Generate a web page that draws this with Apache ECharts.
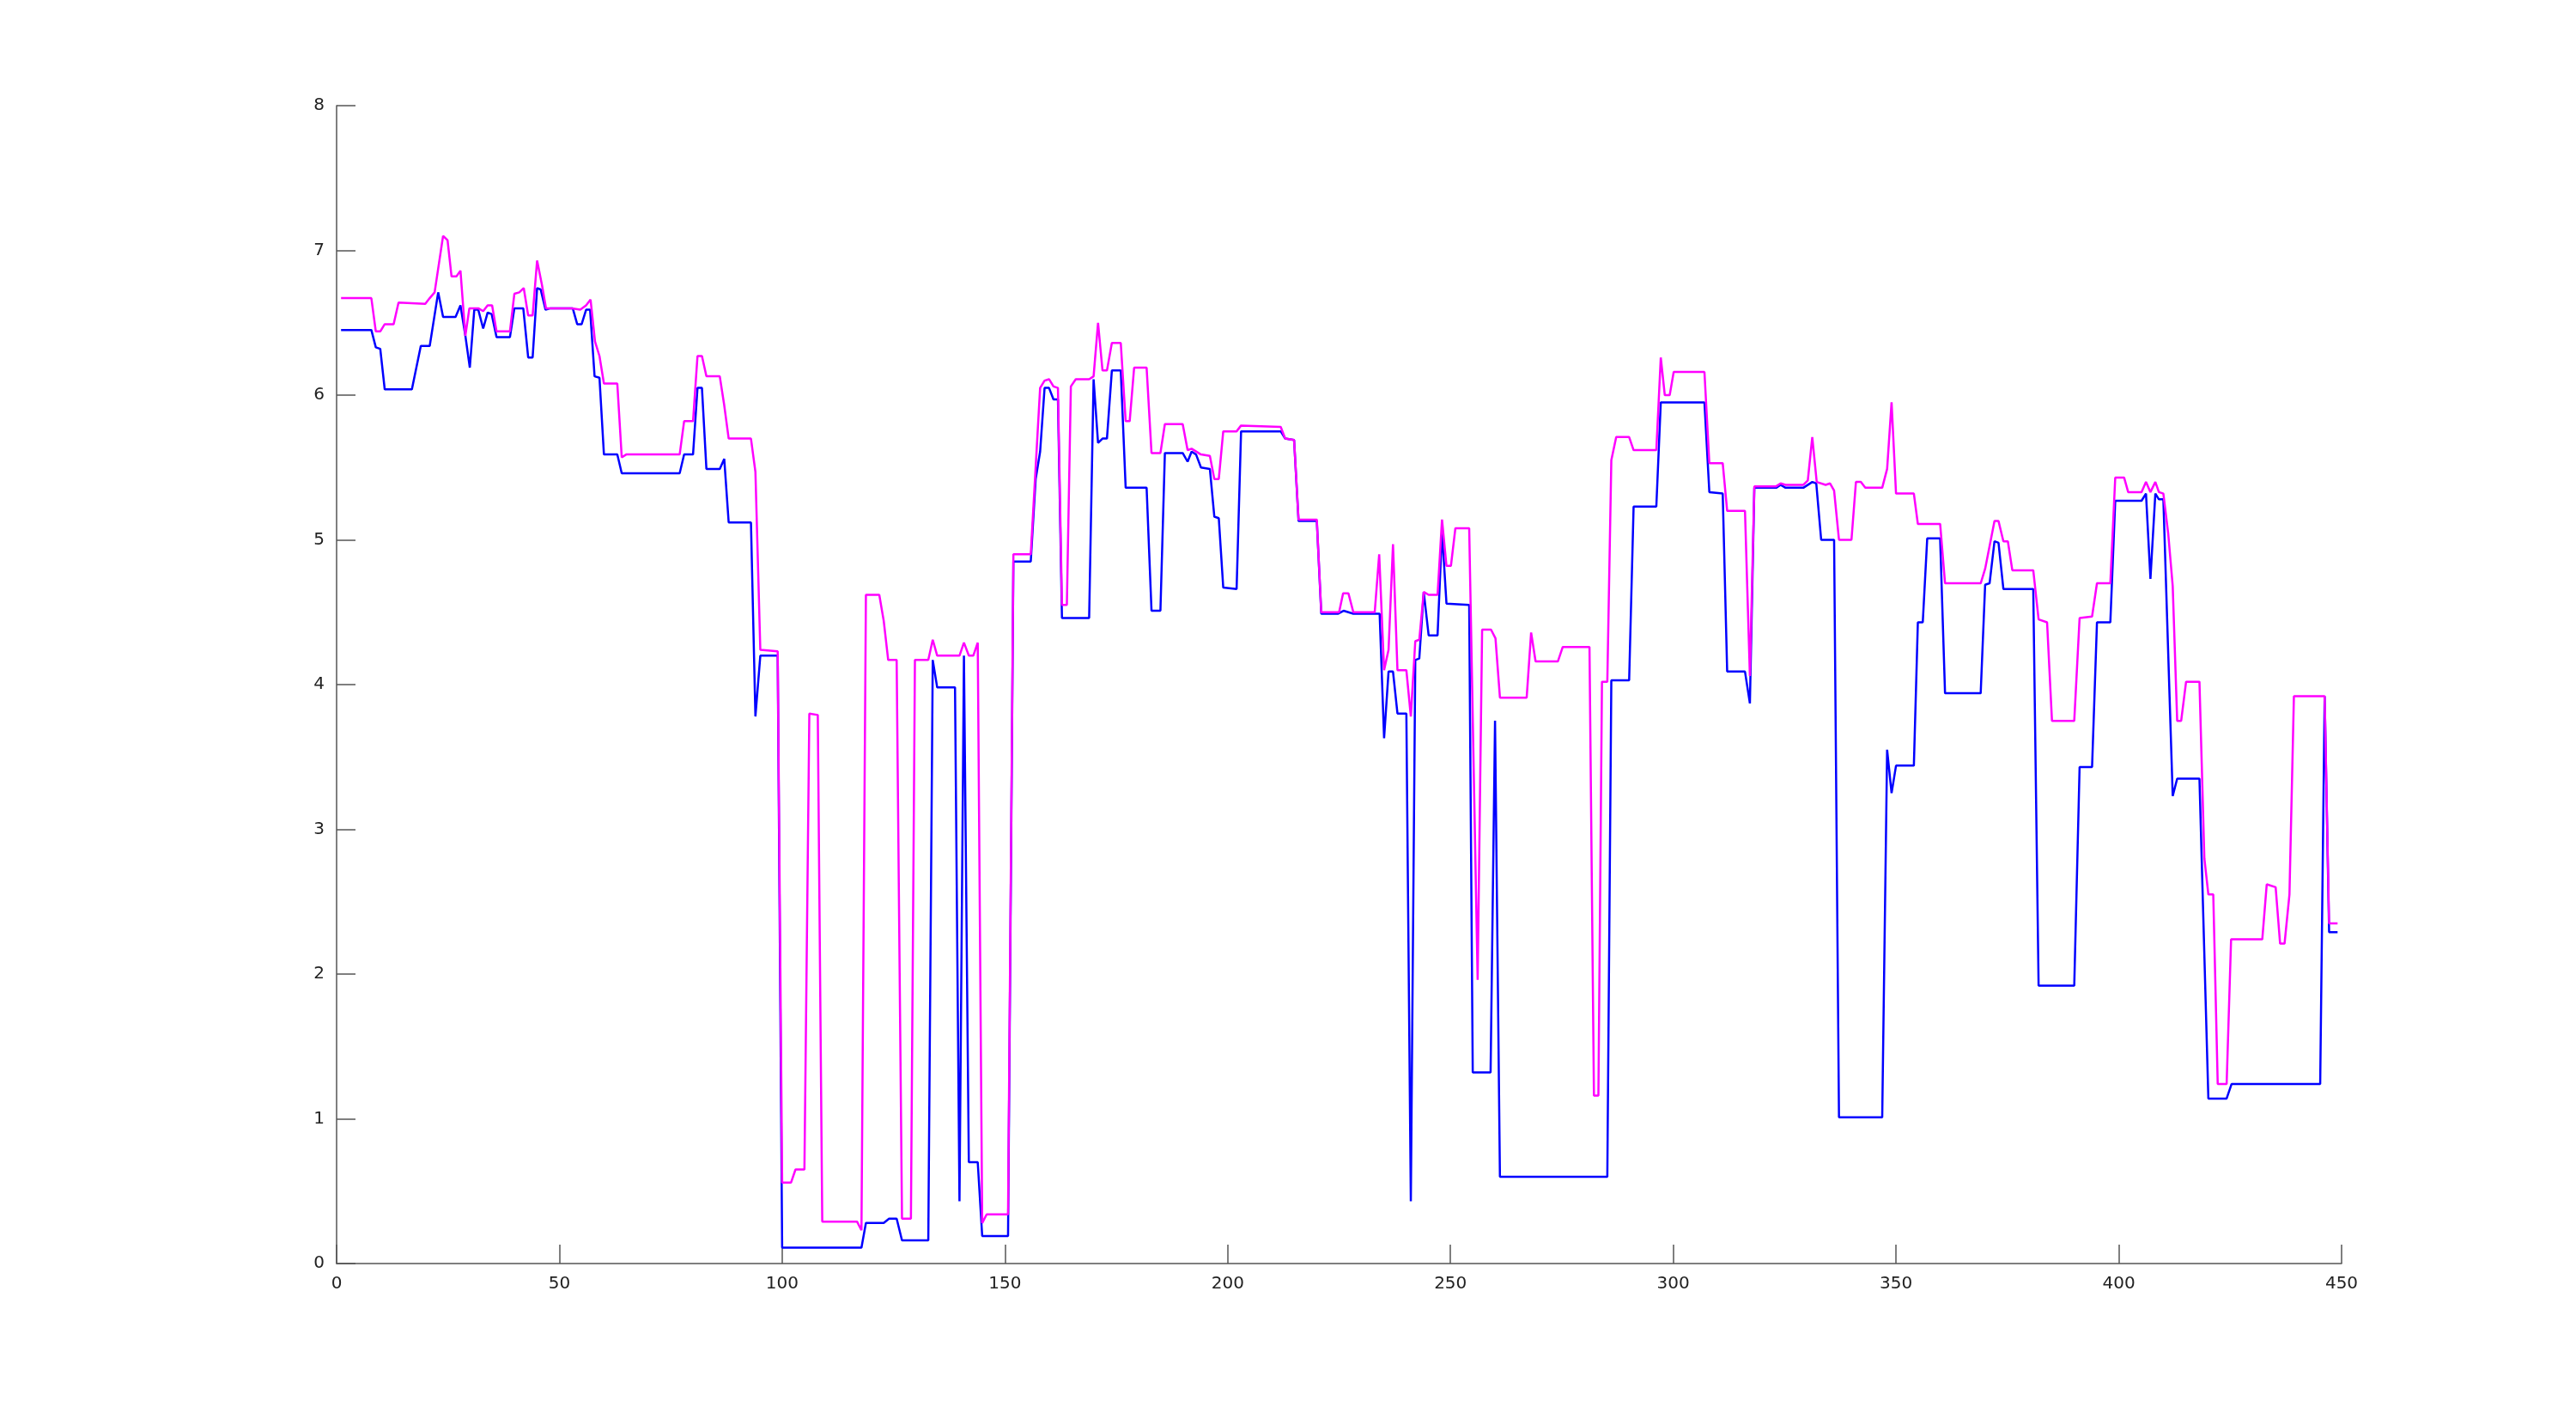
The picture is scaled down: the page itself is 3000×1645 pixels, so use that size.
<!DOCTYPE html>
<html>
<head>
<meta charset="utf-8">
<script src="https://cdn.jsdelivr.net/npm/echarts@6/dist/echarts.min.js"></script>
<style>html,body{margin:0;padding:0;background:#fff}#main{width:3000px;height:1645px}</style>
</head>
<body>
<div id="main"></div>
<script>
// blue series: vertices
var blueX=[1,7.8,8.8,9.8,10.8,16.9,18.9,20.9,22.8,23.9,26.7,27.8,28.9,29.9,30.9,31.8,32.9,33.9,34.8,35.9,38.9,39.9,41.9,43,44,45,45.8,46.9,48,53,54,55,56,56.9,57.9,59,60,63,64,77,78,80,81,82,83,86,87,88,93,94,95.1,99,100,117.8,118.8,122.8,124,125.7,126.9,132.8,133.8,134.8,138.8,139.8,140.8,141.9,143.9,144.9,150.7,151.9,155.8,156.9,157.9,158.9,159.9,160.9,161.9,162.8,168.9,169.9,170.9,171.9,172.9,174,176,177.1,181.8,182.9,184.9,185.9,189.9,191,191.9,192.9,194,196,197,198,199,202,203,211.9,212.9,214.9,215.9,220,221,224.8,226,228.2,234.1,235.1,236.1,237.1,238.1,240.1,241.1,242.1,243,244,245.1,247.1,248.1,249.1,254.2,255,259,260,261.1,285.2,286.1,290.1,291.1,296.2,297.2,307,308.1,311.1,312.1,316.1,317.2,318.2,323.1,324.1,325.2,329.2,331.2,332.1,333.2,336.1,337.2,346.9,348,349,350,354,354.9,356,357,359.9,361,369,370,371,372.1,373,374.1,380.8,382,390,391.2,394,395.1,398.1,399.2,405.1,406.1,407.1,408.2,409,410,412.1,413.1,418.1,420.1,424.2,425.3,445.2,446.2,447.2,449.1];
var blueY=[6.45,6.45,6.33,6.32,6.04,6.04,6.34,6.34,6.71,6.54,6.54,6.62,6.41,6.19,6.59,6.59,6.46,6.57,6.56,6.40,6.40,6.60,6.60,6.26,6.26,6.74,6.73,6.59,6.60,6.60,6.49,6.49,6.59,6.59,6.13,6.12,5.59,5.59,5.46,5.46,5.59,5.59,6.05,6.05,5.49,5.49,5.56,5.12,5.12,3.78,4.20,4.20,0.11,0.11,0.28,0.28,0.31,0.31,0.16,0.16,4.17,3.98,3.98,0.43,4.20,0.70,0.70,0.19,0.19,4.85,4.85,5.42,5.61,6.05,6.05,5.97,5.97,4.46,4.46,6.11,5.67,5.70,5.70,6.17,6.17,5.36,5.36,4.51,4.51,5.60,5.60,5.54,5.61,5.59,5.50,5.49,5.16,5.15,4.67,4.66,5.75,5.75,5.70,5.69,5.13,5.13,4.49,4.49,4.51,4.49,4.49,3.63,4.09,4.09,3.80,3.80,0.43,4.17,4.18,4.64,4.34,4.34,5.06,4.56,4.55,1.32,1.32,3.75,0.60,0.60,4.03,4.03,5.23,5.23,5.95,5.95,5.33,5.32,4.09,4.09,3.87,5.36,5.36,5.38,5.36,5.36,5.40,5.39,5.00,5.00,1.01,1.01,3.55,3.25,3.44,3.44,4.43,4.43,5.01,5.01,3.94,3.94,4.69,4.70,4.99,4.98,4.66,4.66,1.92,1.92,3.43,3.43,4.43,4.43,5.27,5.27,5.32,4.73,5.32,5.28,5.28,3.23,3.35,3.35,1.14,1.14,1.24,1.24,3.92,2.29,2.29];
// magenta series
var pinkX=[1,7.8,8.8,9.8,10.8,12.8,13.9,19.9,20.9,22,23.9,24.9,25.8,26.9,27.8,28.9,29.8,31.8,32.9,33.9,34.9,35.9,38.9,39.9,41,42,43,44,45,46.1,47,52.8,54.7,56,57,58,59,60,63,64,65,77,78,80,81,82,83,86,87,88,93,94,95.1,99,100,102,103,105,106.1,108,109,116.8,117.8,118.8,121.8,122.8,123.8,125.7,126.9,128.9,129.8,132.8,133.8,134.8,139.8,140.8,141.9,142.9,143.9,144.9,145.9,150.7,151.9,155.8,157.9,158.9,159.9,160.9,161.9,162.8,163.9,164.8,165.9,168.9,169.9,170.9,171.9,172.9,174,176,177.1,178,179,181.8,182.9,184.9,185.9,189.9,191,191.9,194,196,197,198,199,202,203,211.9,212.9,214.9,215.9,220,221,225,225.9,227.1,228.2,233,234,235.1,236.1,237.1,238.1,240.1,241.1,242.1,243,244,245.1,247.1,248.1,249.1,250.1,251.1,254.2,256.1,257.1,259.1,260.1,261.1,267.1,268.1,269.1,274.1,275.2,281.2,282.2,283.2,284,285.2,286.1,287.2,290.1,291.1,296.2,297.2,298.1,299.2,300.1,307,308.1,311.1,312.1,316.1,317.2,318.2,323.1,324.1,325.2,329.2,330.2,331.2,332.2,334.2,335.2,336.1,337.2,340,341,342.1,343.1,346.9,348,349,350,354,354.9,359.9,361,369,370,372.1,373,374.1,375.1,376.1,380.8,382,383.9,385,390,391.2,394,395.1,398.1,399.2,401.2,402.1,405.1,406.1,407.1,408.2,409,410,411.1,412.1,413.1,414,415.1,418.1,419.2,420.1,421.2,422.2,424.2,425.2,432.2,433.2,435.2,436.2,437.2,438.3,439.3,446.2,447.2,449.1];
var pinkY=[6.67,6.67,6.44,6.44,6.49,6.49,6.64,6.63,6.67,6.71,7.10,7.07,6.82,6.82,6.86,6.41,6.60,6.60,6.58,6.62,6.62,6.44,6.44,6.70,6.71,6.74,6.55,6.55,6.93,6.76,6.60,6.60,6.59,6.62,6.66,6.37,6.27,6.08,6.08,5.57,5.59,5.59,5.82,5.82,6.27,6.27,6.13,6.13,5.93,5.70,5.70,5.47,4.24,4.23,0.56,0.56,0.65,0.65,3.80,3.79,0.29,0.29,0.23,4.62,4.62,4.44,4.17,4.17,0.31,0.31,4.17,4.17,4.31,4.20,4.20,4.29,4.20,4.20,4.29,0.28,0.34,0.34,4.90,4.90,6.05,6.10,6.11,6.06,6.05,4.55,4.55,6.06,6.11,6.11,6.13,6.50,6.17,6.17,6.36,6.36,5.82,5.82,6.19,6.19,5.60,5.60,5.80,5.80,5.62,5.63,5.59,5.58,5.42,5.42,5.75,5.75,5.79,5.78,5.70,5.69,5.14,5.14,4.50,4.50,4.63,4.63,4.50,4.50,4.90,4.10,4.24,4.97,4.10,4.10,3.78,4.30,4.31,4.64,4.62,4.62,5.14,4.82,4.82,5.08,5.08,1.96,4.38,4.38,4.32,3.91,3.91,4.36,4.16,4.16,4.26,4.26,1.16,1.16,4.02,4.02,5.55,5.71,5.71,5.62,5.62,6.26,6.00,6.00,6.16,6.16,5.53,5.53,5.20,5.20,4.06,5.37,5.37,5.39,5.38,5.38,5.41,5.71,5.40,5.38,5.39,5.34,5.00,5.00,5.40,5.40,5.36,5.36,5.49,5.95,5.32,5.32,5.11,5.11,4.70,4.70,4.80,5.13,5.13,4.99,4.99,4.79,4.79,4.45,4.43,3.75,3.75,4.46,4.47,4.70,4.70,5.43,5.43,5.33,5.33,5.40,5.33,5.40,5.33,5.32,5.04,4.68,3.75,3.75,4.02,4.02,2.80,2.55,2.55,1.24,1.24,2.24,2.24,2.62,2.60,2.21,2.21,2.55,3.92,3.92,2.35,2.35];
var xTicks=[0,50,100,150,200,250,300,350,400,450];

function pairs(xs,ys){return xs.map(function(x,i){return [x,ys[i]];});}

var myChart=echarts.init(document.getElementById('main'));
var axisCol='#555';
var option={
    backgroundColor:'#fff',
    animation:false,
    grid:{left:392,right:273,top:123,bottom:174},
    xAxis:{
        type:'value',min:0,max:450,interval:50,
        axisLine:{lineStyle:{color:axisCol,width:1.5}},
        axisTick:{inside:true,length:22,lineStyle:{color:axisCol,width:1.5}},
        axisLabel:{color:'#222',fontSize:20,fontFamily:'DejaVu Sans',margin:14},
        splitLine:{show:false}
    },
    yAxis:{
        type:'value',min:0,max:8,interval:1,
        axisLine:{show:true,lineStyle:{color:axisCol,width:1.5}},
        axisTick:{show:true,inside:true,length:22,lineStyle:{color:axisCol,width:1.5}},
        axisLabel:{color:'#222',fontSize:20,fontFamily:'DejaVu Sans',margin:14},
        splitLine:{show:false}
    },
    series:[{
        type:'line',data:pairs(blueX,blueY),showSymbol:false,
        lineStyle:{color:'#0000ff',width:2.5}
    },{
        type:'line',data:pairs(pinkX,pinkY),showSymbol:false,
        lineStyle:{color:'#ff00ff',width:2.5}
    }]
};
myChart.setOption(option);
</script>
</body>
</html>
